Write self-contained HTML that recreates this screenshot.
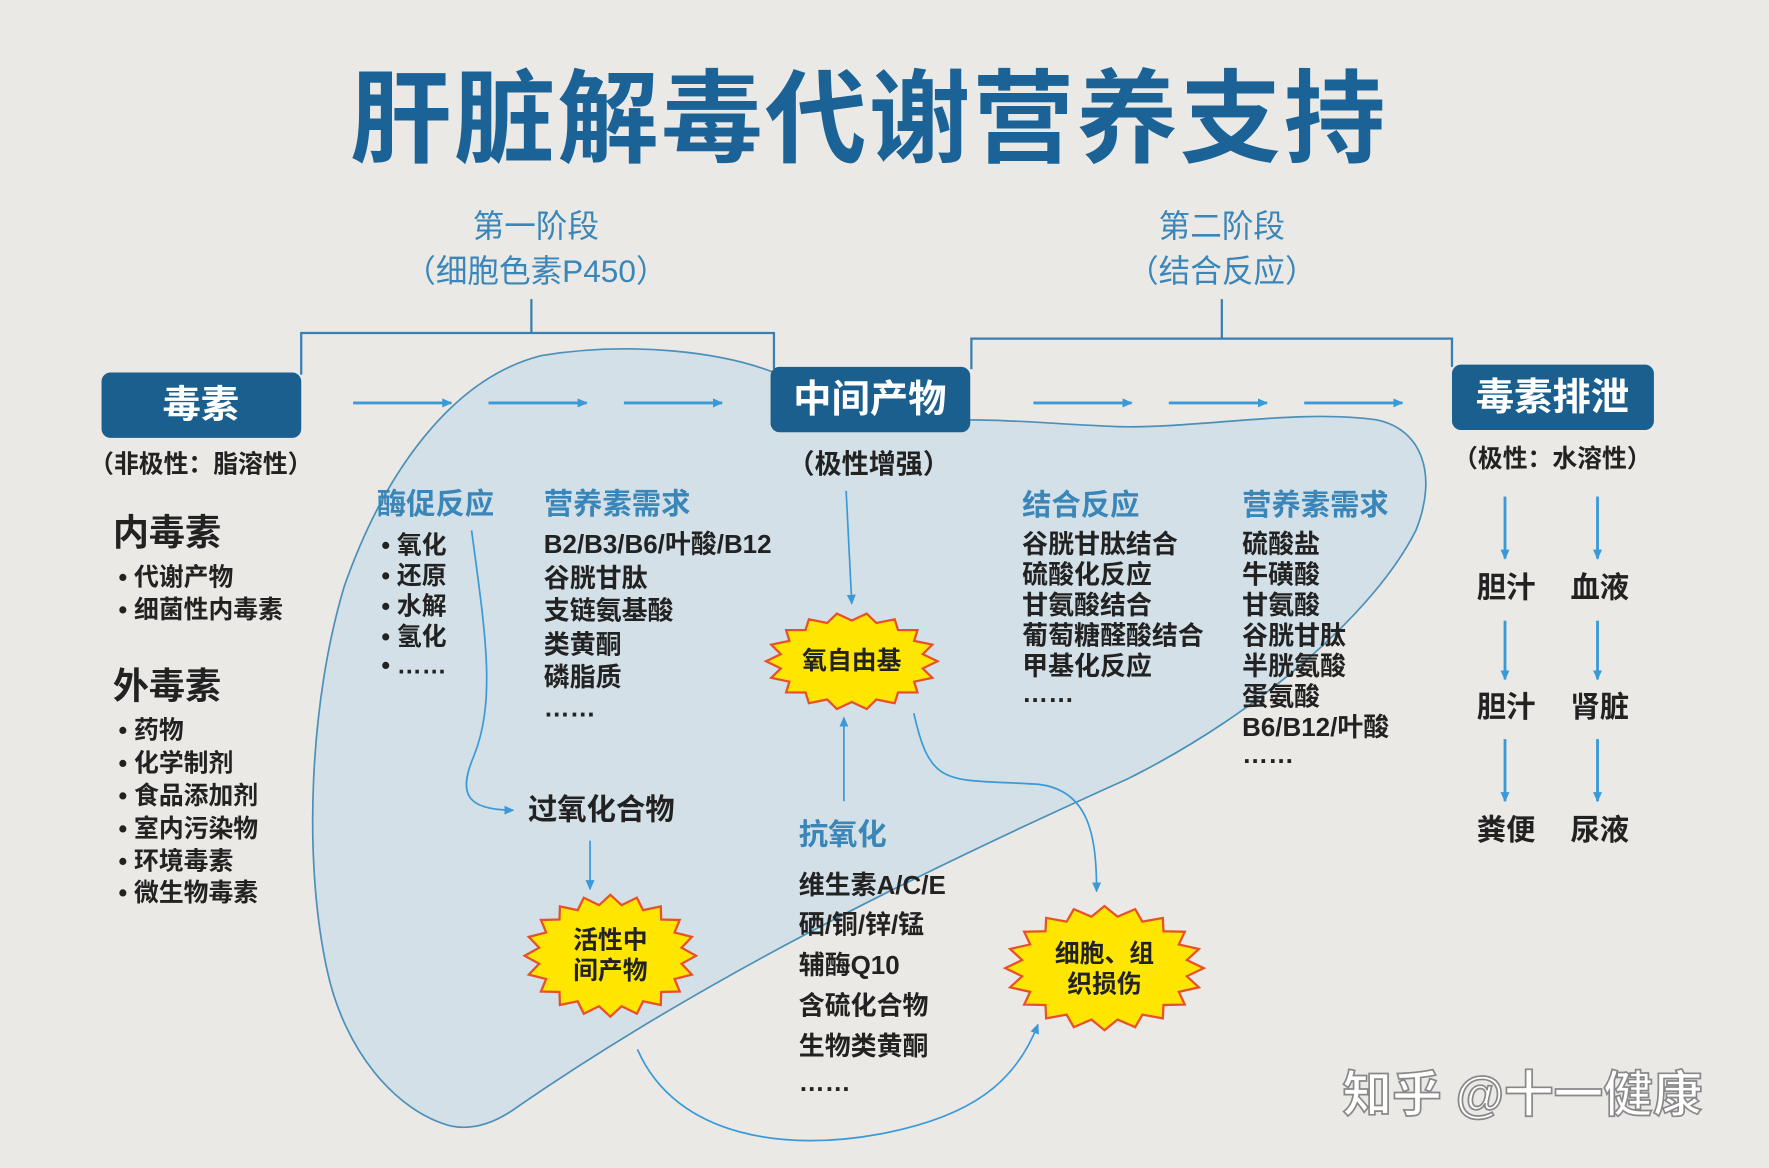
<!DOCTYPE html>
<html><head><meta charset="utf-8"><style>
html,body{margin:0;padding:0;background:#ebe9e6;}
svg{display:block}
text{font-family:"Liberation Sans","Noto Sans CJK SC",sans-serif;}
.b{fill:#3a86b8;font-size:26px;font-weight:bold}
.d{fill:#222;font-size:22px;font-weight:bold}
.m{fill:#222;font-size:23px;font-weight:bold}
</style></head><body>
<svg id="s" width="1769" height="1168" viewBox="0 0 1568 1035" xmlns="http://www.w3.org/2000/svg">
<defs>
<marker id="ah" markerWidth="10" markerHeight="10" refX="8" refY="5" orient="auto" markerUnits="userSpaceOnUse"><path d="M0,1 L9,5 L0,9 Z" fill="#3a9ad8"/></marker>
</defs>
<rect width="1568" height="1035" fill="#ebe9e6"/>
<text x="770" y="106" text-anchor="middle" dominant-baseline="central" style="font-size:90px;font-weight:bold;fill:#1b6396;letter-spacing:2px">肝脏解毒代谢营养支持</text>

<path d="M686,330 C640,312 560,302 480,315 C400,335 340,420 305,520 C275,620 268,760 290,860 C305,930 350,985 400,998 C420,1002 440,995 460,980 C620,870 800,780 1000,690 C1120,630 1220,540 1255,470 C1275,420 1260,380 1220,372 C1150,362 1060,380 990,378 C940,376 900,372 860,372 Z" fill="#d3e0e7" stroke="#4a90b8" stroke-width="1.5"/>

<g stroke="#3a7fb0" stroke-width="2" fill="none">
<path d="M471,265 V295 M267,332 V295 H686 V327"/>
<path d="M1083,265 V300 M861,327 V300 H1287 V325"/>
</g>
<g style="font-size:28px">
<text x="475" y="200" text-anchor="middle" dominant-baseline="central" fill="#3a86b8">第一阶段</text>
<text x="475" y="240" text-anchor="middle" dominant-baseline="central" fill="#3a86b8">（细胞色素P450）</text>
<text x="1083" y="200" text-anchor="middle" dominant-baseline="central" fill="#3a86b8">第二阶段</text>
<text x="1083" y="240" text-anchor="middle" dominant-baseline="central" fill="#3a86b8">（结合反应）</text>
</g>

<rect x="90" y="330" width="177" height="58" rx="8" fill="#1a5f8e"/>
<text x="178" y="359" text-anchor="middle" dominant-baseline="central" style="font-size:34px;font-weight:bold;fill:#fff">毒素</text>
<rect x="683" y="325" width="177" height="58" rx="8" fill="#1a5f8e"/>
<text x="771" y="354" text-anchor="middle" dominant-baseline="central" style="font-size:34px;font-weight:bold;fill:#fff">中间产物</text>
<rect x="1287" y="323" width="179" height="58" rx="8" fill="#1a5f8e"/>
<text x="1376" y="352" text-anchor="middle" dominant-baseline="central" style="font-size:34px;font-weight:bold;fill:#fff">毒素排泄</text>

<g stroke="#3a9ad8" stroke-width="2.5" fill="none" marker-end="url(#ah)">
<path d="M313,357 H400"/><path d="M433,357 H520"/><path d="M553,357 H640"/>
<path d="M916,357 H1003"/><path d="M1036,357 H1123"/><path d="M1156,357 H1243"/>
<path d="M1334,440 V495"/><path d="M1416,440 V495"/>
<path d="M1334,550 V602"/><path d="M1416,550 V602"/>
<path d="M1334,655 V710"/><path d="M1416,655 V710"/>
</g>
<g stroke="#3a9ad8" stroke-width="1.5" fill="none" marker-end="url(#ah)">
<path d="M750,435 L755,535"/>
<path d="M748,710 V636"/>
<path d="M418,470 C430,560 440,620 420,670 C405,705 415,718 455,718"/>
<path d="M523,745 V788"/>
<path d="M810,632 C825,700 840,690 920,695 C965,700 972,740 972,790"/>
<path d="M565,930 C600,1010 700,1020 780,1005 C860,990 900,960 920,908"/>
</g>

<text x="178" y="412" text-anchor="middle" dominant-baseline="central" class="d">（非极性：脂溶性）</text>
<text x="770" y="411" text-anchor="middle" dominant-baseline="central" class="d" style="font-size:24px">（极性增强）</text>
<text x="1376" y="407" text-anchor="middle" dominant-baseline="central" class="d">（极性：水溶性）</text>

<g dominant-baseline="central">
<text x="100" y="472" style="font-size:32px;font-weight:bold;fill:#222">内毒素</text>
<text x="105" y="512" class="d">• 代谢产物</text>
<text x="105" y="541" class="d">• 细菌性内毒素</text>
<text x="100" y="608" style="font-size:32px;font-weight:bold;fill:#222">外毒素</text>
<text x="105" y="648" class="d">• 药物</text>
<text x="105" y="677" class="d">• 化学制剂</text>
<text x="105" y="706" class="d">• 食品添加剂</text>
<text x="105" y="735" class="d">• 室内污染物</text>
<text x="105" y="764" class="d">• 环境毒素</text>
<text x="105" y="792" class="d">• 微生物毒素</text>

<text x="334" y="447" class="b">酶促反应</text>
<text x="338" y="484" class="d">• 氧化</text>
<text x="338" y="511" class="d">• 还原</text>
<text x="338" y="538" class="d">• 水解</text>
<text x="338" y="565" class="d">• 氢化</text>
<text x="338" y="590" class="d">• ……</text>

<text x="482" y="447" class="b">营养素需求</text>
<text x="482" y="483" class="m">B2/B3/B6/叶酸/B12</text>
<text x="482" y="513" class="m">谷胱甘肽</text>
<text x="482" y="542" class="m">支链氨基酸</text>
<text x="482" y="572" class="m">类黄酮</text>
<text x="482" y="601" class="m">磷脂质</text>
<text x="482" y="628" class="m">……</text>

<text x="468" y="718" style="font-size:26px;font-weight:bold;fill:#222">过氧化合物</text>

<text x="708" y="740" class="b">抗氧化</text>
<text x="708" y="785" class="m">维生素A/C/E</text>
<text x="708" y="820" class="m">硒/铜/锌/锰</text>
<text x="708" y="856" class="m">辅酶Q10</text>
<text x="708" y="892" class="m">含硫化合物</text>
<text x="708" y="928" class="m">生物类黄酮</text>
<text x="708" y="960" class="m">……</text>

<text x="906" y="448" class="b">结合反应</text>
<text x="906" y="483" class="m">谷胱甘肽结合</text>
<text x="906" y="510" class="m">硫酸化反应</text>
<text x="906" y="537" class="m">甘氨酸结合</text>
<text x="906" y="564" class="m">葡萄糖醛酸结合</text>
<text x="906" y="591" class="m">甲基化反应</text>
<text x="906" y="615" class="m">……</text>

<text x="1101" y="448" class="b">营养素需求</text>
<text x="1101" y="483" class="m">硫酸盐</text>
<text x="1101" y="510" class="m">牛磺酸</text>
<text x="1101" y="537" class="m">甘氨酸</text>
<text x="1101" y="564" class="m">谷胱甘肽</text>
<text x="1101" y="591" class="m">半胱氨酸</text>
<text x="1101" y="618" class="m">蛋氨酸</text>
<text x="1101" y="645" class="m">B6/B12/叶酸</text>
<text x="1101" y="669" class="m">……</text>

<g style="font-size:26px;font-weight:bold;fill:#222" text-anchor="middle">
<text x="1335" y="521">胆汁</text><text x="1418" y="521">血液</text>
<text x="1335" y="627">胆汁</text><text x="1418" y="627">肾脏</text>
<text x="1335" y="736">粪便</text><text x="1418" y="736">尿液</text>
</g>
</g>

<polygon id="st1" fill="#ffe600" stroke="#e8502a" stroke-width="2"/>
<polygon id="st2" fill="#ffe600" stroke="#e8502a" stroke-width="2"/>
<polygon id="st3" fill="#ffe600" stroke="#e8502a" stroke-width="2"/>
<g dominant-baseline="central" text-anchor="middle" style="font-size:22px;font-weight:bold;fill:#222">
<text x="755" y="586">氧自由基</text>
<text x="541" y="834">活性中</text><text x="541" y="861">间产物</text>
<text x="979" y="846">细胞、组</text><text x="979" y="873">织损伤</text>
</g>

<text x="1190" y="970" dominant-baseline="central" style="font-size:44px;fill:#fff;stroke:#888;stroke-width:1.5;font-weight:bold">知乎 @十一健康</text>
</svg>
<script>
function star(id,cx,cy,rx,ry,n){var p=[];for(var i=0;i<2*n;i++){var a=Math.PI*i/n;var f=i%2?0.84:1;p.push((cx+rx*f*Math.cos(a)).toFixed(1)+','+(cy+ry*f*Math.sin(a)).toFixed(1));}document.getElementById(id).setAttribute('points',p.join(' '));}
star('st1',755,586,76,43,18);star('st2',541,847,76,54,20);star('st3',979,858,88,55,20);
</script>
</body></html>
